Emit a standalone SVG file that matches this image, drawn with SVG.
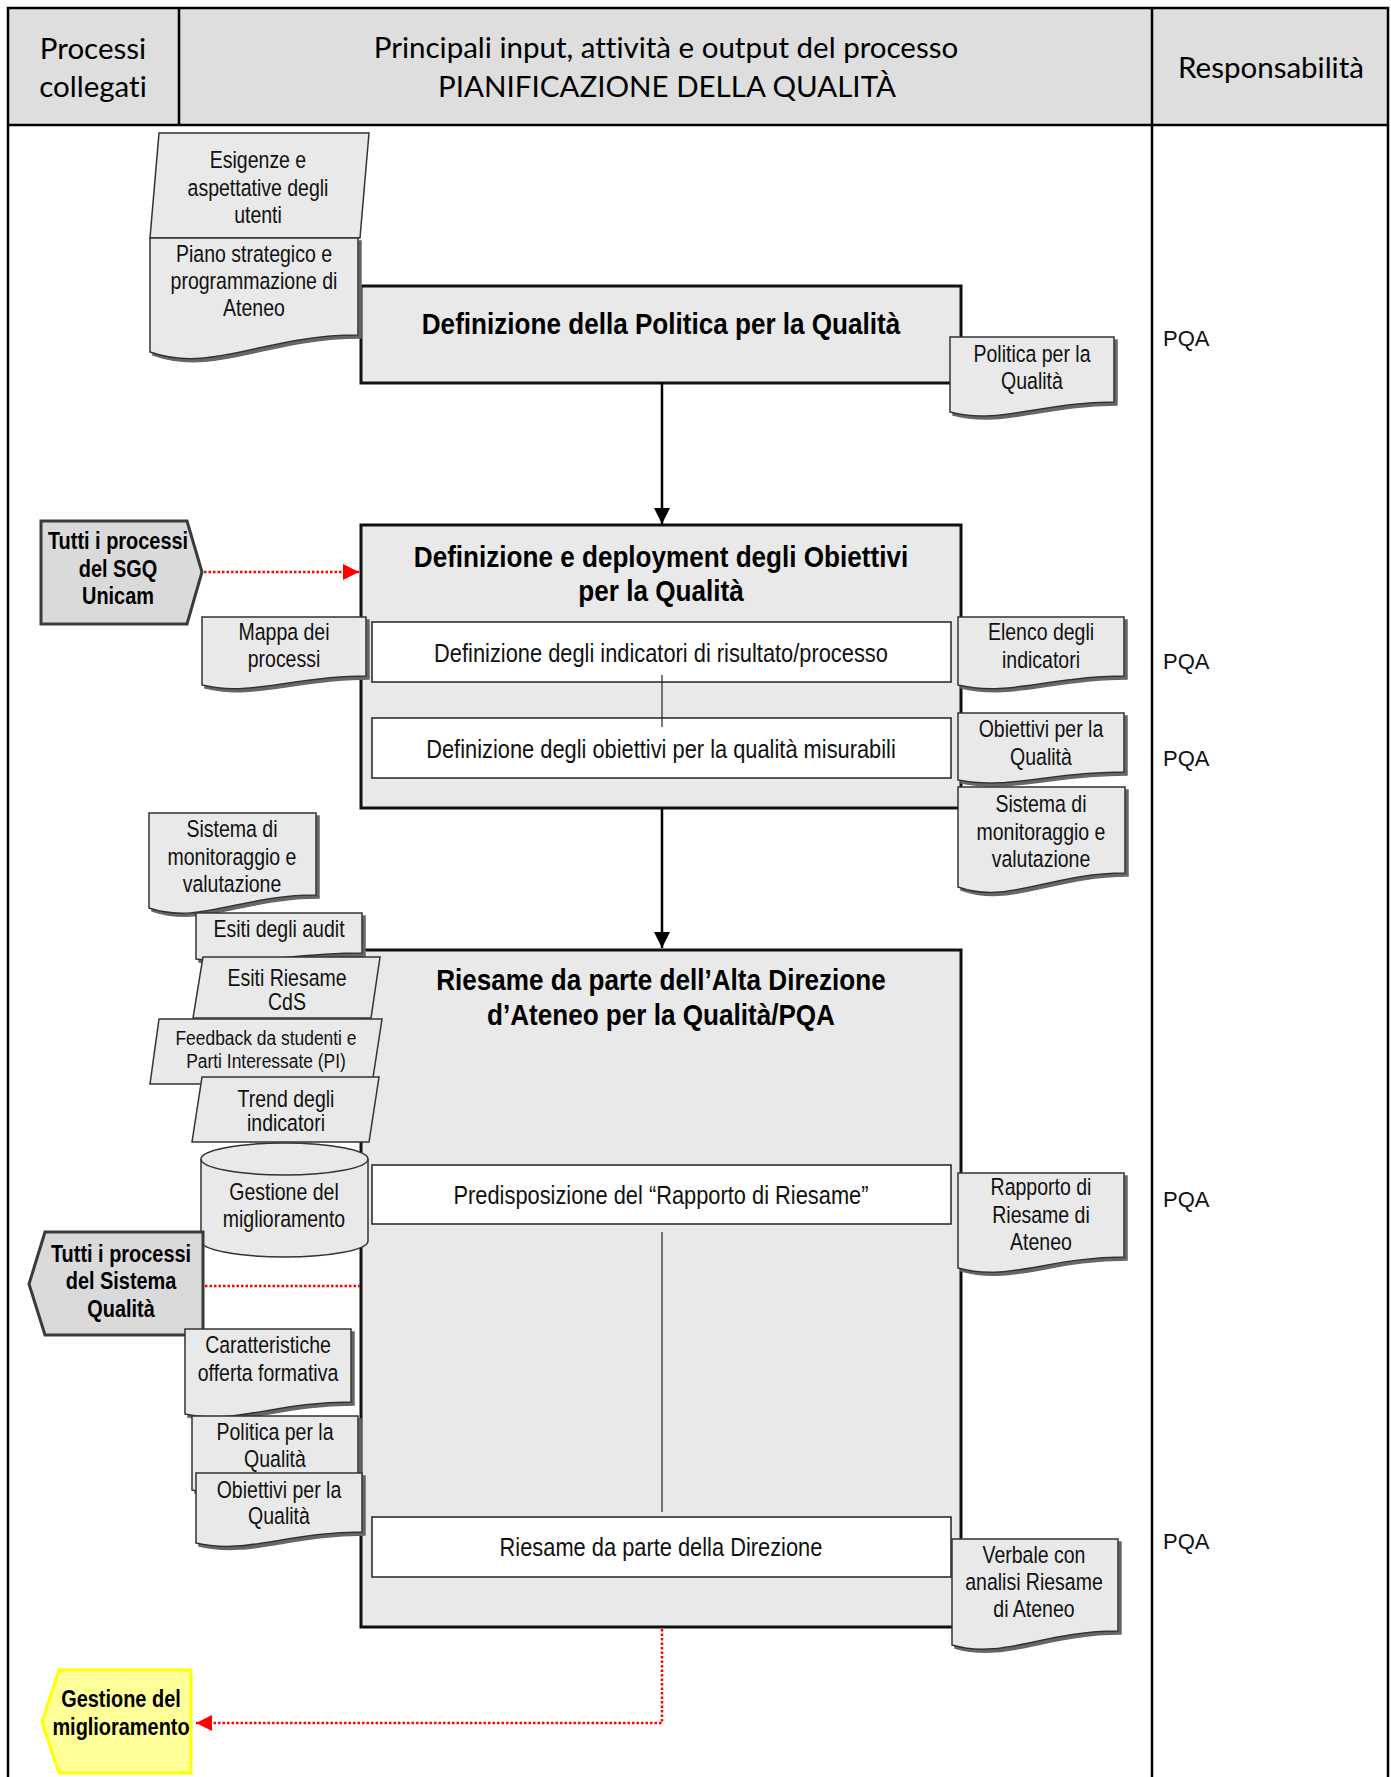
<svg xmlns="http://www.w3.org/2000/svg" width="1391" height="1777" viewBox="0 0 1391 1777">
<style>
.hd{font-family:Lato,"Open Sans","Liberation Sans",sans-serif;font-size:29.5px;fill:#000;text-anchor:middle;font-variant-ligatures:none}
.t,.ti,.in,.pb{transform-box:fill-box;transform-origin:center}
.t{font-family:"Liberation Sans Narrow","Liberation Sans",Arial,sans-serif;font-size:23.5px;fill:#111;text-anchor:middle;transform:scaleX(0.83)}
.fb{font-size:21px}
.ti{font-family:"Liberation Sans",Arial,sans-serif;font-size:30px;font-weight:bold;fill:#000;text-anchor:middle;transform:scaleX(0.87)}
.in{font-family:"Liberation Sans",Arial,sans-serif;font-size:26px;fill:#111;text-anchor:middle;transform:scaleX(0.84)}
.pb{font-family:"Liberation Sans",Arial,sans-serif;font-size:24px;font-weight:bold;fill:#000;text-anchor:middle;transform:scaleX(0.83)}
.pqa{font-family:"Liberation Sans",Arial,sans-serif;font-size:22px;fill:#111}
.doc{fill:#e9e9e9;stroke:#333;stroke-width:1.5;filter:url(#sh)}
.par{fill:#e9e9e9;stroke:#333;stroke-width:1.5}
.box{fill:#e9e9e9;stroke:#111;stroke-width:3}
.inner{fill:#fff;stroke:#222;stroke-width:1.5}
.pent{fill:#dadada;stroke:#3a3a3a;stroke-width:3}
.yel{fill:#ffff99;stroke:#ffff00;stroke-width:3}
.tbl{fill:none;stroke:#000;stroke-width:2.5}
.blk{stroke:#000;stroke-width:2.5;fill:none}
.thin{stroke:#222;stroke-width:1.2;fill:none}
.red{stroke:#ff0000;stroke-width:2.5;fill:none;stroke-dasharray:2.5 2}
</style>
<defs>
<filter id="sh" x="-10%" y="-10%" width="130%" height="130%">
<feDropShadow dx="3" dy="3" stdDeviation="0.7" flood-color="#666" flood-opacity="1"/>
</filter>
<marker id="ab" markerUnits="userSpaceOnUse" markerWidth="16" markerHeight="16" refX="16" refY="8" orient="auto">
<path d="M0,0 L16,8 L0,16 Z" fill="#000"/>
</marker>
<marker id="ar" markerUnits="userSpaceOnUse" markerWidth="16" markerHeight="16" refX="16" refY="8" orient="auto">
<path d="M0,0 L16,8 L0,16 Z" fill="#ff0000"/>
</marker>
</defs>
<rect width="1391" height="1777" fill="#fff"/>

<g id="table">
<rect x="8" y="8" width="1380" height="117" fill="#dedede"/>
<rect class="tbl" x="8" y="8" width="1380" height="1800"/>
<line class="tbl" x1="8" y1="125" x2="1388" y2="125"/>
<line class="tbl" x1="179" y1="8" x2="179" y2="125"/>
<line class="tbl" x1="1152" y1="8" x2="1152" y2="1777"/>
<text class="hd" x="93" y="59">Processi</text>
<text class="hd" x="93" y="97">collegati</text>
<text class="hd" x="666" y="58">Principali input, attività e output del processo</text>
<text class="hd" x="667" y="97">PIANIFICAZIONE DELLA QUALITÀ</text>
<text class="hd" x="1271" y="78">Responsabilità</text>
<text class="pqa" x="1163" y="346">PQA</text>
<text class="pqa" x="1163" y="669">PQA</text>
<text class="pqa" x="1163" y="766">PQA</text>
<text class="pqa" x="1163" y="1207">PQA</text>
<text class="pqa" x="1163" y="1549">PQA</text>
</g>

<g id="box1">
<rect class="box" x="361" y="286" width="600" height="97"/>
<text class="ti" x="661" y="334">Definizione della Politica per la Qualità</text>
</g>

<g id="box2">
<rect class="box" x="361" y="525" width="600" height="283"/>
<text class="ti" x="661" y="567">Definizione e deployment degli Obiettivi</text>
<text class="ti" x="661" y="601">per la Qualità</text>
</g>
<g id="box2a">
<rect class="inner" x="372" y="622" width="579" height="60"/>
<text class="in" x="661" y="662">Definizione degli indicatori di risultato/processo</text>
</g>
<g id="box2b">
<rect class="inner" x="372" y="718" width="579" height="60"/>
<text class="in" x="661" y="758">Definizione degli obiettivi per la qualità misurabili</text>
</g>

<g id="box3">
<rect class="box" x="361" y="950" width="600" height="677"/>
<text class="ti" x="661" y="990">Riesame da parte dell’Alta Direzione</text>
<text class="ti" x="661" y="1025">d’Ateneo per la Qualità/PQA</text>
</g>
<g id="box3c">
<rect class="inner" x="372" y="1165" width="579" height="59"/>
<text class="in" x="661" y="1204">Predisposizione del “Rapporto di Riesame”</text>
</g>
<g id="box3d">
<rect class="inner" x="372" y="1517" width="579" height="60"/>
<text class="in" x="661" y="1556">Riesame da parte della Direzione</text>
</g>

<g id="connectors">
<line class="blk" x1="662" y1="383" x2="662" y2="524" marker-end="url(#ab)"/>
<line class="blk" x1="662" y1="808" x2="662" y2="948" marker-end="url(#ab)"/>
<line class="thin" x1="662" y1="675" x2="662" y2="727"/>
<line class="thin" x1="662" y1="1232" x2="662" y2="1512"/>
<line class="red" x1="204" y1="572" x2="359" y2="572" marker-end="url(#ar)"/>
<line class="red" x1="205" y1="1286" x2="360" y2="1286"/>
<polyline class="red" points="662,1629 662,1723 196,1723" marker-end="url(#ar)"/>
</g>

<g id="esigenze">
<polygon class="par" points="159,133 369,133 360,238 150,238"/>
<text class="t" x="258" y="168">Esigenze e</text>
<text class="t" x="258" y="196">aspettative degli</text>
<text class="t" x="258" y="223">utenti</text>
</g>
<g id="piano">
<path class="doc" d="M150,238 H358 V335 C264,335 212,374 150,352 Z"/>
<text class="t" x="254" y="262">Piano strategico e</text>
<text class="t" x="254" y="289">programmazione di</text>
<text class="t" x="254" y="316">Ateneo</text>
</g>
<g id="politica-out">
<path class="doc" d="M950,337 H1114 V402 C1040,402 999,425 950,412 Z"/>
<text class="t" x="1032" y="362">Politica per la</text>
<text class="t" x="1032" y="389">Qualità</text>
</g>

<g id="sgq">
<polygon class="pent" points="41,521 187,521 202,572 187,624 41,624"/>
<text class="pb" x="118" y="549">Tutti i processi</text>
<text class="pb" x="118" y="577">del SGQ</text>
<text class="pb" x="118" y="604">Unicam</text>
</g>
<g id="mappa">
<path class="doc" d="M202,617 H366 V676 C292,676 251,697 202,685 Z"/>
<text class="t" x="284" y="640">Mappa dei</text>
<text class="t" x="284" y="667">processi</text>
</g>
<g id="elenco">
<path class="doc" d="M958,617 H1124 V676 C1049,676 1008,697 958,685 Z"/>
<text class="t" x="1041" y="640">Elenco degli</text>
<text class="t" x="1041" y="668">indicatori</text>
</g>
<g id="obiettivi-out">
<path class="doc" d="M958,713 H1124 V772 C1049,772 1008,790 958,780 Z"/>
<text class="t" x="1041" y="737">Obiettivi per la</text>
<text class="t" x="1041" y="765">Qualità</text>
</g>
<g id="sistema-out">
<path class="doc" d="M958,787 H1125 V873 C1050,873 1008,905 958,887 Z"/>
<text class="t" x="1041" y="812">Sistema di</text>
<text class="t" x="1041" y="840">monitoraggio e</text>
<text class="t" x="1041" y="867">valutazione</text>
</g>

<g id="sistema-in">
<path class="doc" d="M149,813 H316 V895 C241,895 199,925 149,908 Z"/>
<text class="t" x="232" y="837">Sistema di</text>
<text class="t" x="232" y="865">monitoraggio e</text>
<text class="t" x="232" y="892">valutazione</text>
</g>
<g id="audit">
<path class="doc" d="M196,913 H362 V953 C287,953 246,967 196,959 Z"/>
<text class="t" x="279" y="937">Esiti degli audit</text>
</g>
<g id="riesame-cds">
<polygon class="par" points="203,957 380,957 371,1018 193,1018"/>
<text class="t" x="287" y="986">Esiti Riesame</text>
<text class="t" x="287" y="1010">CdS</text>
</g>
<g id="feedback">
<polygon class="par" points="159,1019 382,1019 372,1084 150,1084"/>
<text class="t fb" x="266" y="1045">Feedback da studenti e</text>
<text class="t fb" x="266" y="1068">Parti Interessate (PI)</text>
</g>
<g id="trend">
<polygon class="par" points="202,1077 379,1077 369,1142 192,1142"/>
<text class="t" x="286" y="1107">Trend degli</text>
<text class="t" x="286" y="1131">indicatori</text>
</g>
<g id="gestione-db">
<path d="M201,1159 A83.5,16 0 0,1 368,1159 V1241 A83.5,16 0 0,1 201,1241 Z" fill="#e9e9e9" stroke="#333" stroke-width="1.5"/>
<path d="M201,1159 A83.5,16 0 0,0 368,1159" fill="none" stroke="#333" stroke-width="1.5"/>
<text class="t" x="284" y="1200">Gestione del</text>
<text class="t" x="284" y="1227">miglioramento</text>
</g>
<g id="sistema-qualita">
<polygon class="pent" points="45,1232 203,1232 203,1335 45,1335 29,1284"/>
<text class="pb" x="121" y="1262">Tutti i processi</text>
<text class="pb" x="121" y="1289">del Sistema</text>
<text class="pb" x="121" y="1317">Qualità</text>
</g>
<g id="caratteristiche">
<path class="doc" d="M185,1329 H351 V1402 C276,1402 235,1425 185,1414 Z"/>
<text class="t" x="268" y="1353">Caratteristiche</text>
<text class="t" x="268" y="1381">offerta formativa</text>
</g>
<g id="politica-in">
<path class="doc" d="M192,1416 H358 V1480 C283,1480 242,1500 192,1490 Z"/>
<text class="t" x="275" y="1440">Politica per la</text>
<text class="t" x="275" y="1467">Qualità</text>
</g>
<g id="obiettivi-in">
<path class="doc" d="M196,1473 H362 V1532 C287,1532 246,1555 196,1543 Z"/>
<text class="t" x="279" y="1498">Obiettivi per la</text>
<text class="t" x="279" y="1524">Qualità</text>
</g>
<g id="rapporto">
<path class="doc" d="M958,1173 H1124 V1257 C1049,1257 1008,1282 958,1268 Z"/>
<text class="t" x="1041" y="1195">Rapporto di</text>
<text class="t" x="1041" y="1223">Riesame di</text>
<text class="t" x="1041" y="1250">Ateneo</text>
</g>
<g id="verbale">
<path class="doc" d="M952,1539 H1118 V1631 C1043,1631 1002,1660 952,1645 Z"/>
<text class="t" x="1034" y="1563">Verbale con</text>
<text class="t" x="1034" y="1590">analisi Riesame</text>
<text class="t" x="1034" y="1617">di Ateneo</text>
</g>
<g id="gestione-out">
<polygon class="yel" points="59,1670 191,1670 191,1773 59,1773 42,1722"/>
<text class="pb" x="121" y="1707">Gestione del</text>
<text class="pb" x="121" y="1735">miglioramento</text>
</g>
</svg>
